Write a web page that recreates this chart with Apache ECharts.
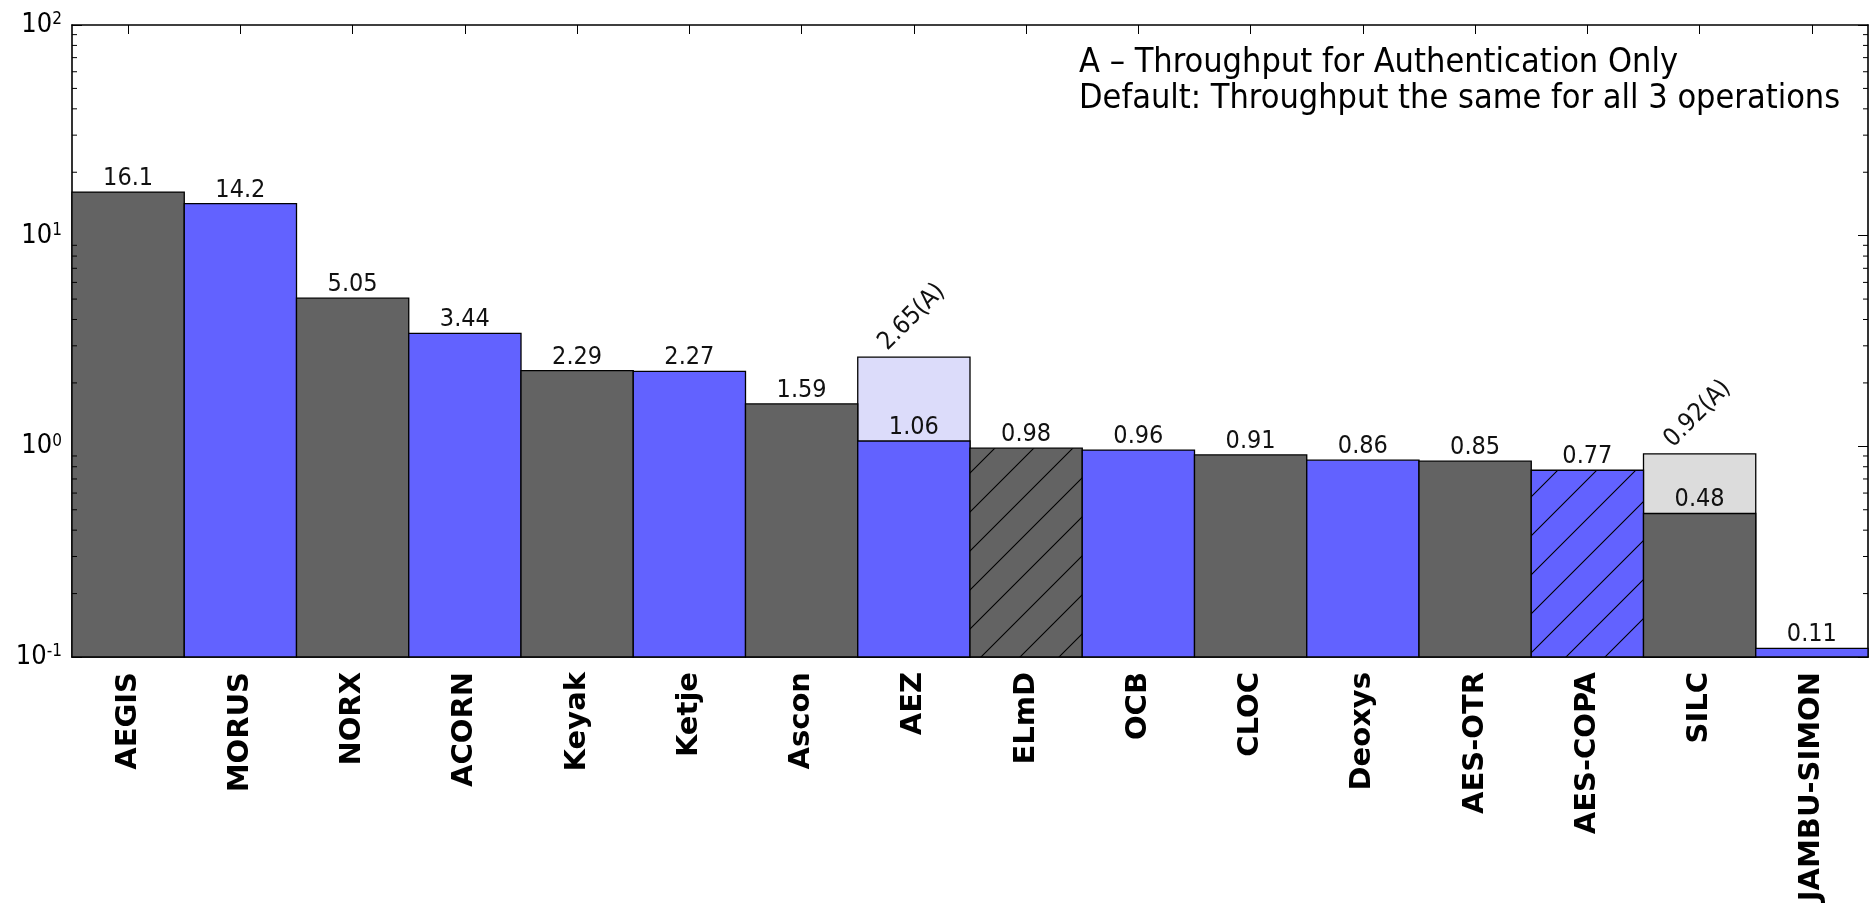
<!DOCTYPE html>
<html>
<head>
<meta charset="utf-8">
<title>AEAD throughput</title>
<script src="https://cdn.jsdelivr.net/npm/echarts@6/dist/echarts.min.js"></script>
<style>
  html, body { margin: 0; padding: 0; background: #fff; }
  #chart { width: 1873px; height: 912px; }
</style>
</head>
<body>
<div id="chart"></div>
<script>
// Candidate names along the x axis
const categories = ['AEGIS', 'MORUS', 'NORX', 'ACORN', 'Keyak', 'Ketje', 'Ascon', 'AEZ',
  'ELmD', 'OCB', 'CLOC', 'Deoxys', 'AES-OTR', 'AES-COPA', 'SILC', 'JAMBU-SIMON'];

// Throughput (same for all 3 operations unless noted)
const throughput = [16.1, 14.2, 5.05, 3.44, 2.29, 2.27, 1.59, 1.06,
  0.98, 0.96, 0.91, 0.86, 0.85, 0.77, 0.48, 0.11];

// Throughput for authentication only, where it differs
const authOnly = [null, null, null, null, null, null, null, 2.65,
  null, null, null, null, null, null, 0.92, null];

// Log-axis tick values
const yMin = 0.1;
const yMax = 100;
const minorTicks = [0.2, 0.3, 0.4, 0.5, 0.6, 0.7, 0.8, 0.9,
  2, 3, 4, 5, 6, 7, 8, 9, 20, 30, 40, 50, 60, 70, 80, 90];

// Candidates drawn with a diagonal hatch
const hatched = ['ELmD', 'AES-COPA'];

const GRAY = '#636363';
const BLUE = '#6262ff';
const LIGHT_GRAY = '#dcdcdc';
const LIGHT_BLUE = '#dcdcfa';
const EDGE = '#000';

function hatchPattern(bg) {
  const s = 39;
  const c = document.createElement('canvas');
  c.width = s; c.height = s;
  const ctx = c.getContext('2d');
  ctx.fillStyle = bg;
  ctx.fillRect(0, 0, s, s);
  ctx.strokeStyle = '#000';
  ctx.lineWidth = 1.1;
  ctx.beginPath();
  ctx.moveTo(0, s); ctx.lineTo(s, 0);
  ctx.moveTo(-2, 2); ctx.lineTo(2, -2);
  ctx.moveTo(s - 2, s + 2); ctx.lineTo(s + 2, s - 2);
  ctx.stroke();
  return { image: c, repeat: 'repeat' };
}

function baseColor(i) { return i % 2 === 0 ? GRAY : BLUE; }
function fillFor(i) {
  const col = baseColor(i);
  return hatched.indexOf(categories[i]) >= 0 ? hatchPattern(col) : col;
}

const labelFont = '25px "DejaVu Sans Condensed", "DejaVu Sans", sans-serif';

function barShape(api, i, v) {
  const top = api.coord([i, v]);
  const bottom = api.coord([i, yMin]);
  const w = api.size([1, 0])[0];
  return { x: top[0] - w / 2, y: top[1], width: w, height: bottom[1] - top[1], cx: top[0] };
}

const chart = echarts.init(document.getElementById('chart'), null, { renderer: 'canvas' });

const logAxisCommon = {
  type: 'log',
  logBase: 10,
  min: yMin,
  max: yMax,
  splitLine: { show: false },
  axisLine: { show: true, lineStyle: { color: '#000', width: 1.6 } },
  axisTick: { show: true, inside: true, length: 10, lineStyle: { color: '#000', width: 1 } }
};

const catAxisCommon = {
  type: 'category',
  data: categories,
  boundaryGap: true,
  axisLine: { show: true, lineStyle: { color: '#000', width: 1.6 } },
  axisTick: { show: true, inside: true, alignWithLabel: true, length: 9, lineStyle: { color: '#000', width: 1 } }
};

chart.setOption({
  animation: false,
  backgroundColor: '#fff',
  grid: { left: 72, right: 5, top: 25, bottom: 255, containLabel: false },
  xAxis: [
    Object.assign({}, catAxisCommon, {
      position: 'bottom',
      axisLabel: {
        interval: 0, rotate: 90, margin: 15, color: '#000',
        fontFamily: '"DejaVu Sans", sans-serif', fontWeight: 'bold', fontSize: 29
      }
    }),
    Object.assign({}, catAxisCommon, { position: 'top', axisLabel: { show: false } })
  ],
  yAxis: [
    Object.assign({}, logAxisCommon, {
      position: 'left',
      axisLabel: {
        margin: 10, color: '#000',
        formatter: function (val) {
          const e = Math.round(Math.log10(val));
          return '{b|10}{s|' + e + '}';
        },
        rich: {
          b: { fontFamily: '"Liberation Sans Narrow", "DejaVu Sans Condensed", sans-serif', fontSize: 27, lineHeight: 27, color: '#000' },
          s: { fontFamily: '"Liberation Sans Narrow", "DejaVu Sans Condensed", sans-serif', fontSize: 17, verticalAlign: 'top', color: '#000' }
        }
      }
    }),
    Object.assign({}, logAxisCommon, { position: 'right', axisLabel: { show: false } })
  ],
  graphic: [{
    type: 'text',
    left: 1079,
    top: 45,
    style: {
      text: 'A – Throughput for Authentication Only\nDefault: Throughput the same for all 3 operations',
      font: '34px "Liberation Sans Narrow", "DejaVu Sans Condensed", sans-serif',
      lineHeight: 36,
      fill: '#000'
    }
  }],
  series: [
    {
      // authentication-only throughput, drawn behind the default bars
      type: 'custom',
      name: 'Authentication only',
      xAxisIndex: 0, yAxisIndex: 0,
      encode: { x: 0, y: 1 },
      data: authOnly.map((v, i) => [i, v]).filter(d => d[1] != null),
      z: 2,
      renderItem: function (params, api) {
        const i = api.value(0), v = api.value(1);
        const r = barShape(api, i, v);
        return {
          type: 'group',
          children: [
            {
              type: 'rect',
              shape: { x: r.x, y: r.y, width: r.width, height: r.height },
              style: { fill: i % 2 === 0 ? LIGHT_GRAY : LIGHT_BLUE, stroke: EDGE, lineWidth: 1.3 }
            },
            {
              type: 'text',
              x: r.cx - 2, y: r.y - 40,
              rotation: Math.PI / 4,
              style: { text: v + '(A)', font: labelFont, fill: '#111', align: 'center', verticalAlign: 'middle' }
            }
          ]
        };
      }
    },
    {
      // default throughput
      type: 'custom',
      name: 'Throughput',
      xAxisIndex: 0, yAxisIndex: 0,
      encode: { x: 0, y: 1 },
      data: throughput.map((v, i) => [i, v]),
      z: 3,
      renderItem: function (params, api) {
        const i = api.value(0), v = api.value(1);
        const r = barShape(api, i, v);
        return {
          type: 'group',
          children: [
            {
              type: 'rect',
              shape: { x: r.x, y: r.y, width: r.width, height: r.height },
              style: { fill: fillFor(i), stroke: EDGE, lineWidth: 1.3 }
            },
            {
              type: 'text',
              x: r.cx, y: r.y - 1,
              style: { text: String(v), font: labelFont, fill: '#111', align: 'center', verticalAlign: 'bottom' }
            }
          ]
        };
      }
    },
    {
      // minor ticks of the log axes, on both sides of the frame
      type: 'custom',
      name: 'minor ticks',
      xAxisIndex: 0, yAxisIndex: 0,
      encode: { x: 0, y: 1 },
      data: minorTicks.map(v => [0, v]),
      z: 5,
      silent: true,
      renderItem: function (params, api) {
        const cs = params.coordSys;
        const y = api.coord([0, api.value(1)])[1];
        const len = 5;
        const st = { stroke: '#000', lineWidth: 1 };
        return {
          type: 'group',
          children: [
            { type: 'line', shape: { x1: cs.x, y1: y, x2: cs.x + len, y2: y }, style: st },
            { type: 'line', shape: { x1: cs.x + cs.width - len, y1: y, x2: cs.x + cs.width, y2: y }, style: st }
          ]
        };
      }
    }
  ]
});
</script>
</body>
</html>
